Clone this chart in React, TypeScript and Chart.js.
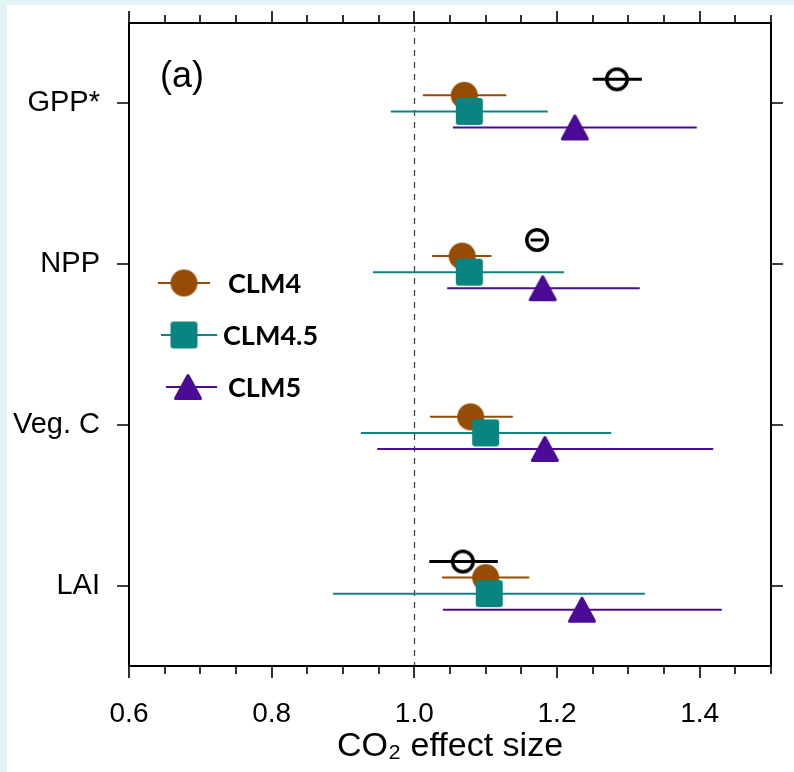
import React, { useEffect, useRef } from 'react';
import { Chart, registerables } from 'chart.js';

Chart.register(...registerables);

// ---------- data ----------
const categories = ['GPP*', 'NPP', 'Veg. C', 'LAI'];
const seriesNames = ['CLM4', 'CLM4.5', 'CLM5'];

const obsMean: (number | null)[] = [1.284, 1.172, null, 1.068];
const obsLow: (number | null)[] = [1.25, 1.163, null, 1.021];
const obsHigh: (number | null)[] = [1.319, 1.181, null, 1.117];

const clm4Mean = [1.07, 1.067, 1.079, 1.1];
const clm4Low = [1.012, 1.025, 1.022, 1.039];
const clm4High = [1.129, 1.108, 1.138, 1.161];

const clm45Mean = [1.077, 1.077, 1.1, 1.105];
const clm45Low = [0.967, 0.942, 0.925, 0.886];
const clm45High = [1.187, 1.21, 1.276, 1.323];

const clm5Mean = [1.225, 1.18, 1.183, 1.235];
const clm5Low = [1.054, 1.046, 0.948, 1.04];
const clm5High = [1.396, 1.316, 1.419, 1.431];

const xMin = 0.6;
const xMax = 1.5;
const xMajorTicks = [0.6, 0.8, 1.0, 1.2, 1.4];
const xMinorStep = 0.05;
const refLine = 1.0;

// ---------- styles ----------
const COL_CLM4 = '#964c05';
const COL_CLM45 = '#0a8480';
const COL_CLM5 = '#4b0b97';
const COL_OBS = '#000000';
const FONT = '"Liberation Sans", Arial, Helvetica, sans-serif';
const LEGEND_FONT = 'Lato, "Open Sans", sans-serif';

function mk(w: number, h: number, draw: (c: CanvasRenderingContext2D) => void) {
  const cv = document.createElement('canvas');
  cv.width = w;
  cv.height = h;
  const c = cv.getContext('2d')!;
  draw(c);
  return cv;
}
function circleMarker(d: number, color: string) {
  const s = Math.ceil(d) + 2;
  return mk(s, s, (c) => {
    c.fillStyle = color;
    c.beginPath();
    c.arc(s / 2, s / 2, d / 2, 0, Math.PI * 2);
    c.fill();
  });
}
function openCircleMarker(d: number, lw: number) {
  const s = Math.ceil(d) + 2;
  return mk(s, s, (c) => {
    c.strokeStyle = COL_OBS;
    c.lineWidth = lw;
    c.beginPath();
    c.arc(s / 2, s / 2, d / 2 - lw / 2, 0, Math.PI * 2);
    c.stroke();
  });
}
function squareMarker(side: number, color: string, rad: number) {
  const s = side + 2;
  return mk(s, s, (c) => {
    c.fillStyle = color;
    c.beginPath();
    if ((c as any).roundRect) (c as any).roundRect(1, 1, side, side, rad);
    else c.rect(1, 1, side, side);
    c.fill();
  });
}
function triangleMarker(w: number, h: number, color: string) {
  const s = Math.max(w, h) + 4;
  return mk(s, s, (c) => {
    c.fillStyle = color;
    c.strokeStyle = color;
    c.lineWidth = 3;
    c.lineJoin = 'round';
    const cx = s / 2;
    const cy = s / 2;
    c.beginPath();
    c.moveTo(cx, cy - h / 2 + 1.5);
    c.lineTo(cx + w / 2 - 1.5, cy + h / 2 - 1.5);
    c.lineTo(cx - w / 2 + 1.5, cy + h / 2 - 1.5);
    c.closePath();
    c.fill();
    c.stroke();
  });
}

export default function App() {
  const ref = useRef<HTMLCanvasElement | null>(null);

  useEffect(() => {
    document.body.style.margin = '0';
    const canvas = ref.current;
    if (!canvas) return;

    const mObs = openCircleMarker(24, 3.5);
    const m4 = circleMarker(27, COL_CLM4);
    const m45 = squareMarker(27, COL_CLM45, 3);
    const m5 = triangleMarker(28, 26, COL_CLM5);

    const offsets = [-0.15, -0.05, 0.05, 0.15];
    const mkData = (mean: (number | null)[], off: number) => {
      const out: { x: number; y: number }[] = [];
      mean.forEach((v, i) => {
        if (v != null) out.push({ x: v, y: i + off });
      });
      return out;
    };

    const bars: Record<number, { low: (number | null)[]; high: (number | null)[]; color: string; lw: number; off: number }> = {
      0: { low: obsLow, high: obsHigh, color: COL_OBS, lw: 3, off: offsets[0] },
      1: { low: clm4Low, high: clm4High, color: COL_CLM4, lw: 2, off: offsets[1] },
      2: { low: clm45Low, high: clm45High, color: COL_CLM45, lw: 2, off: offsets[2] },
      3: { low: clm5Low, high: clm5High, color: COL_CLM5, lw: 2, off: offsets[3] },
    };

    const bgPlugin = {
      id: 'bg',
      beforeDraw(chart: any) {
        const c = chart.ctx;
        c.save();
        c.fillStyle = '#e4f4f6';
        c.fillRect(0, 0, chart.width, chart.height);
        c.fillStyle = '#ffffff';
        c.fillRect(7, 5, chart.width - 7, chart.height - 5);
        c.restore();
      },
    };

    const framePlugin = {
      id: 'frame',
      beforeDatasetsDraw(chart: any) {
        const c = chart.ctx;
        const { left, right, top, bottom } = chart.chartArea;
        const xs = chart.scales.x;
        const ys = chart.scales.y;
        c.save();
        c.strokeStyle = '#444';
        c.lineWidth = 1.3;
        c.setLineDash([6, 6]);
        const rx = Math.round(xs.getPixelForValue(refLine)) + 0.5;
        c.beginPath();
        c.moveTo(rx, top + 3);
        c.lineTo(rx, bottom);
        c.stroke();
        c.setLineDash([]);
        c.strokeStyle = '#000';
        c.lineWidth = 2;
        c.strokeRect(left, top, right - left, bottom - top);
        c.lineWidth = 1.6;
        const n = Math.round((xMax - xMin) / xMinorStep);
        for (let k = 0; k <= n; k++) {
          const v = xMin + k * xMinorStep;
          const isMajor = xMajorTicks.some((t) => Math.abs(t - v) < 1e-6);
          const len = isMajor ? 12 : 8;
          const px = Math.round(xs.getPixelForValue(v));
          c.beginPath();
          c.moveTo(px, bottom);
          c.lineTo(px, bottom + len);
          c.moveTo(px, top);
          c.lineTo(px, top - len);
          c.stroke();
        }
        categories.forEach((_, i) => {
          const py = Math.round(ys.getPixelForValue(i));
          c.beginPath();
          c.moveTo(left, py);
          c.lineTo(left - 12, py);
          c.moveTo(right, py);
          c.lineTo(right + 12, py);
          c.stroke();
        });
        c.restore();
      },
      beforeDatasetDraw(chart: any, args: any) {
        const b = bars[args.index];
        if (!b) return;
        const c = chart.ctx;
        const xs = chart.scales.x;
        const ys = chart.scales.y;
        c.save();
        c.strokeStyle = b.color;
        c.lineWidth = b.lw;
        b.low.forEach((lo, i) => {
          const hi = b.high[i];
          if (lo == null || hi == null) return;
          const py = ys.getPixelForValue(i + b.off);
          c.beginPath();
          c.moveTo(xs.getPixelForValue(lo), py);
          c.lineTo(xs.getPixelForValue(hi), py);
          c.stroke();
        });
        c.restore();
      },
      afterDraw(chart: any) {
        const c = chart.ctx;
        c.save();
        c.fillStyle = '#000';
        c.font = `36px ${FONT}`;
        c.textBaseline = 'middle';
        c.textAlign = 'left';
        c.fillText('(a)', 160, 77);
        const items = [
          { name: seriesNames[0], color: COL_CLM4, m: m4, y: 283, l0: 158, l1: 210, mx: 184, tx: 228 },
          { name: seriesNames[1], color: COL_CLM45, m: m45, y: 335, l0: 161, l1: 217, mx: 184, tx: 223 },
          { name: seriesNames[2], color: COL_CLM5, m: m5, y: 387, l0: 166, l1: 217, mx: 188, tx: 228 },
        ];
        c.font = `bold 27px ${LEGEND_FONT}`;
        items.forEach((it) => {
          c.strokeStyle = it.color;
          c.lineWidth = 2;
          c.beginPath();
          c.moveTo(it.l0, it.y);
          c.lineTo(it.l1, it.y);
          c.stroke();
          c.drawImage(it.m, it.mx - it.m.width / 2, it.y - it.m.height / 2);
          c.fillStyle = '#000';
          c.fillText(it.name, it.tx, it.y + 1);
        });
        c.restore();
      },
    };

    const chart = new Chart(canvas, {
      type: 'scatter',
      data: {
        datasets: [
          { label: 'Obs', data: mkData(obsMean, offsets[0]), pointStyle: mObs as any, order: 4, showLine: false },
          { label: seriesNames[0], data: mkData(clm4Mean, offsets[1]), pointStyle: m4 as any, order: 3, showLine: false },
          { label: seriesNames[1], data: mkData(clm45Mean, offsets[2]), pointStyle: m45 as any, order: 2, showLine: false },
          { label: seriesNames[2], data: mkData(clm5Mean, offsets[3]), pointStyle: m5 as any, order: 1, showLine: false },
        ],
      },
      options: {
        responsive: false,
        animation: false,
        events: [],
        layout: { autoPadding: false, padding: { left: 0, right: 23, top: 23, bottom: 0 } },
        plugins: { legend: { display: false }, tooltip: { enabled: false } },
        scales: {
          x: {
            type: 'linear',
            position: 'bottom',
            min: xMin,
            max: xMax,
            afterBuildTicks: (s: any) => {
              s.ticks = xMajorTicks.map((v) => ({ value: v }));
            },
            ticks: {
              autoSkip: false,
              maxRotation: 0,
              color: '#000',
              font: { family: FONT, size: 28 },
              padding: 31,
              callback: (v: any) => Number(v).toFixed(1),
            },
            grid: { display: false, drawTicks: false },
            border: { display: false },
            title: {
              display: true,
              text: 'CO₂ effect size',
              color: '#000',
              font: { family: FONT, size: 34 },
              padding: { top: 0, bottom: 5 },
            },
            afterFit: (s: any) => {
              s.height = 106;
              s.paddingLeft = 0;
              s.paddingRight = 0;
            },
          },
          y: {
            type: 'linear',
            position: 'left',
            reverse: true,
            min: -0.5,
            max: 3.5,
            afterBuildTicks: (s: any) => {
              s.ticks = categories.map((_, i) => ({ value: i }));
            },
            ticks: {
              autoSkip: false,
              color: '#000',
              font: { family: FONT, size: 29 },
              padding: 29,
              callback: (v: any) => categories[v] ?? '',
            },
            grid: { display: false, drawTicks: false },
            border: { display: false },
            afterFit: (s: any) => {
              s.width = 129;
              s.paddingTop = 0;
              s.paddingBottom = 0;
            },
          },
        },
      },
      plugins: [bgPlugin, framePlugin],
    } as any);

    return () => chart.destroy();
  }, []);

  return (
    <div style={{ width: 794, height: 772 }}>
      <canvas ref={ref} width={794} height={772} style={{ display: 'block', width: 794, height: 772 }} />
    </div>
  );
}
